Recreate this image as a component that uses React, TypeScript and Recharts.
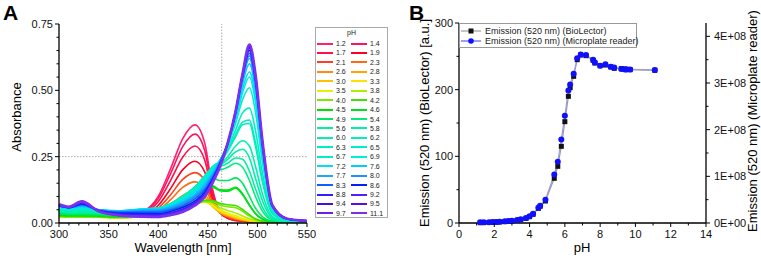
import React from 'react';
import { LineChart, Line, XAxis, YAxis, ReferenceLine, Legend } from 'recharts';

const FONT = '"Liberation Sans", Arial, sans-serif';

// pH of every spectrum in panel A, also the x values of panel B
const phValues = [
  1.2, 1.4, 1.7, 1.9, 2.1, 2.3, 2.6, 2.8, 3.0, 3.3, 3.5, 3.8, 4.0, 4.2, 4.5, 4.6, 4.9, 5.4, 5.6,
  5.8, 6.0, 6.2, 6.3, 6.5, 6.7, 6.9, 7.2, 7.6, 7.7, 8.0, 8.3, 8.6, 8.8, 9.2, 9.4, 9.5, 9.7, 11.1,
];

const phColors = [
  '#ff2070', '#ff1060', '#ff1048', '#ff0020', '#ff4020', '#ff6a10', '#ff8a10', '#ffa500', '#ffc000',
  '#ffe000', '#e8f000', '#b0ee00', '#80e800', '#40e000', '#00e000', '#00e020', '#00e860', '#00ee80',
  '#00f0a0', '#00f0a8', '#00f0b0', '#00f0b8', '#00eec0', '#00eec8', '#00eed0', '#00eedc', '#00e0f0',
  '#00ccff', '#20a8ff', '#2090ff', '#1060ff', '#0020ff', '#3020ff', '#5020ff', '#4010e0', '#5010f0',
  '#6a20e8', '#7a30f0',
];

const wavelengths = [300, 310, 323, 340, 360, 385, 400, 412, 425, 437, 447, 455, 462, 470, 478, 485, 492, 498, 505, 515, 530, 550];

// one row per pH, one value per wavelength
const absorbance: number[][] = [
  [0.040, 0.036, 0.035, 0.030, 0.026, 0.045, 0.100, 0.200, 0.320, 0.370, 0.300, 0.125, 0.045, 0.018, 0.010, 0.007, 0.006, 0.005, 0.005, 0.004, 0.004, 0.004],
  [0.038, 0.034, 0.033, 0.029, 0.025, 0.042, 0.092, 0.182, 0.290, 0.335, 0.272, 0.115, 0.043, 0.018, 0.010, 0.007, 0.006, 0.005, 0.005, 0.004, 0.004, 0.004],
  [0.036, 0.032, 0.031, 0.028, 0.024, 0.039, 0.080, 0.157, 0.250, 0.290, 0.236, 0.102, 0.042, 0.019, 0.011, 0.008, 0.006, 0.005, 0.005, 0.004, 0.004, 0.004],
  [0.034, 0.030, 0.030, 0.027, 0.023, 0.035, 0.066, 0.127, 0.202, 0.233, 0.192, 0.088, 0.040, 0.020, 0.012, 0.008, 0.006, 0.005, 0.005, 0.004, 0.004, 0.004],
  [0.032, 0.029, 0.029, 0.026, 0.022, 0.032, 0.056, 0.104, 0.165, 0.190, 0.160, 0.078, 0.040, 0.022, 0.013, 0.009, 0.007, 0.005, 0.005, 0.004, 0.004, 0.004],
  [0.031, 0.028, 0.028, 0.025, 0.022, 0.030, 0.048, 0.086, 0.135, 0.155, 0.133, 0.070, 0.040, 0.024, 0.015, 0.010, 0.007, 0.005, 0.005, 0.004, 0.004, 0.004],
  [0.029, 0.027, 0.027, 0.024, 0.021, 0.028, 0.040, 0.068, 0.105, 0.120, 0.108, 0.064, 0.040, 0.026, 0.017, 0.011, 0.008, 0.006, 0.005, 0.004, 0.004, 0.004],
  [0.028, 0.026, 0.026, 0.024, 0.021, 0.027, 0.036, 0.058, 0.088, 0.100, 0.094, 0.062, 0.041, 0.028, 0.019, 0.012, 0.008, 0.006, 0.005, 0.004, 0.004, 0.004],
  [0.026, 0.025, 0.025, 0.023, 0.020, 0.026, 0.034, 0.050, 0.074, 0.085, 0.084, 0.062, 0.043, 0.030, 0.021, 0.014, 0.009, 0.006, 0.005, 0.004, 0.004, 0.004],
  [0.025, 0.024, 0.024, 0.022, 0.020, 0.025, 0.032, 0.046, 0.066, 0.078, 0.080, 0.064, 0.046, 0.033, 0.023, 0.015, 0.010, 0.006, 0.005, 0.004, 0.004, 0.004],
  [0.024, 0.023, 0.023, 0.022, 0.020, 0.025, 0.031, 0.043, 0.061, 0.073, 0.078, 0.067, 0.050, 0.037, 0.027, 0.018, 0.011, 0.007, 0.005, 0.004, 0.004, 0.004],
  [0.024, 0.023, 0.023, 0.022, 0.020, 0.025, 0.031, 0.042, 0.058, 0.070, 0.079, 0.073, 0.058, 0.047, 0.038, 0.026, 0.015, 0.009, 0.005, 0.004, 0.004, 0.004],
  [0.025, 0.024, 0.024, 0.023, 0.021, 0.026, 0.032, 0.043, 0.059, 0.072, 0.082, 0.080, 0.068, 0.061, 0.058, 0.044, 0.026, 0.013, 0.006, 0.004, 0.004, 0.004],
  [0.027, 0.025, 0.025, 0.024, 0.022, 0.027, 0.033, 0.045, 0.061, 0.075, 0.086, 0.085, 0.074, 0.069, 0.066, 0.051, 0.031, 0.016, 0.007, 0.004, 0.004, 0.004],
  [0.030, 0.028, 0.028, 0.027, 0.025, 0.031, 0.038, 0.053, 0.076, 0.102, 0.130, 0.140, 0.125, 0.124, 0.135, 0.110, 0.068, 0.036, 0.015, 0.006, 0.004, 0.004],
  [0.030, 0.028, 0.028, 0.027, 0.025, 0.031, 0.038, 0.052, 0.074, 0.099, 0.126, 0.135, 0.122, 0.120, 0.131, 0.107, 0.066, 0.035, 0.015, 0.006, 0.004, 0.004],
  [0.035, 0.032, 0.032, 0.031, 0.029, 0.036, 0.044, 0.061, 0.088, 0.119, 0.152, 0.170, 0.160, 0.160, 0.170, 0.150, 0.100, 0.056, 0.024, 0.007, 0.004, 0.004],
  [0.040, 0.037, 0.037, 0.035, 0.033, 0.041, 0.049, 0.067, 0.096, 0.131, 0.170, 0.198, 0.200, 0.210, 0.225, 0.210, 0.160, 0.100, 0.045, 0.012, 0.005, 0.004],
  [0.042, 0.039, 0.040, 0.037, 0.035, 0.043, 0.051, 0.069, 0.099, 0.134, 0.175, 0.205, 0.212, 0.225, 0.245, 0.240, 0.195, 0.130, 0.060, 0.015, 0.005, 0.004],
  [0.045, 0.042, 0.043, 0.040, 0.038, 0.046, 0.053, 0.071, 0.101, 0.136, 0.178, 0.210, 0.218, 0.240, 0.268, 0.278, 0.245, 0.170, 0.085, 0.020, 0.006, 0.005],
  [0.048, 0.045, 0.046, 0.043, 0.040, 0.048, 0.055, 0.072, 0.101, 0.136, 0.178, 0.212, 0.223, 0.250, 0.290, 0.310, 0.290, 0.215, 0.110, 0.025, 0.007, 0.005],
  [0.050, 0.047, 0.049, 0.045, 0.042, 0.050, 0.056, 0.072, 0.100, 0.134, 0.176, 0.213, 0.230, 0.270, 0.325, 0.370, 0.375, 0.290, 0.155, 0.035, 0.009, 0.006],
  [0.051, 0.048, 0.050, 0.046, 0.043, 0.051, 0.056, 0.072, 0.099, 0.133, 0.175, 0.213, 0.232, 0.274, 0.333, 0.380, 0.388, 0.305, 0.165, 0.037, 0.009, 0.006],
  [0.053, 0.050, 0.052, 0.047, 0.044, 0.052, 0.056, 0.071, 0.097, 0.130, 0.172, 0.211, 0.233, 0.282, 0.350, 0.415, 0.433, 0.350, 0.190, 0.042, 0.010, 0.006],
  [0.056, 0.053, 0.056, 0.049, 0.045, 0.053, 0.056, 0.069, 0.093, 0.124, 0.165, 0.205, 0.235, 0.292, 0.375, 0.465, 0.510, 0.420, 0.230, 0.050, 0.012, 0.007],
  [0.058, 0.055, 0.058, 0.050, 0.046, 0.053, 0.055, 0.067, 0.090, 0.120, 0.160, 0.200, 0.235, 0.297, 0.388, 0.490, 0.550, 0.455, 0.250, 0.055, 0.013, 0.007],
  [0.060, 0.056, 0.060, 0.050, 0.046, 0.052, 0.054, 0.065, 0.087, 0.116, 0.155, 0.195, 0.234, 0.298, 0.395, 0.505, 0.570, 0.473, 0.260, 0.057, 0.014, 0.007],
  [0.062, 0.057, 0.063, 0.050, 0.045, 0.050, 0.051, 0.061, 0.081, 0.109, 0.146, 0.188, 0.232, 0.300, 0.405, 0.525, 0.600, 0.500, 0.275, 0.060, 0.015, 0.008],
  [0.063, 0.058, 0.065, 0.050, 0.044, 0.048, 0.049, 0.058, 0.077, 0.104, 0.140, 0.184, 0.230, 0.300, 0.410, 0.538, 0.620, 0.517, 0.285, 0.062, 0.015, 0.008],
  [0.064, 0.058, 0.067, 0.049, 0.042, 0.045, 0.046, 0.054, 0.072, 0.098, 0.133, 0.178, 0.227, 0.300, 0.413, 0.545, 0.630, 0.525, 0.290, 0.063, 0.015, 0.008],
  [0.065, 0.058, 0.070, 0.048, 0.040, 0.041, 0.041, 0.049, 0.066, 0.091, 0.125, 0.172, 0.224, 0.300, 0.416, 0.550, 0.640, 0.534, 0.295, 0.064, 0.016, 0.008],
  [0.066, 0.058, 0.072, 0.047, 0.037, 0.036, 0.035, 0.043, 0.059, 0.083, 0.117, 0.166, 0.221, 0.300, 0.418, 0.553, 0.650, 0.542, 0.300, 0.065, 0.016, 0.008],
  [0.067, 0.059, 0.075, 0.046, 0.034, 0.032, 0.031, 0.038, 0.053, 0.077, 0.110, 0.161, 0.218, 0.300, 0.419, 0.556, 0.658, 0.549, 0.303, 0.066, 0.016, 0.008],
  [0.068, 0.059, 0.077, 0.045, 0.032, 0.029, 0.028, 0.035, 0.049, 0.072, 0.105, 0.158, 0.216, 0.300, 0.420, 0.558, 0.662, 0.552, 0.305, 0.066, 0.016, 0.008],
  [0.068, 0.060, 0.078, 0.045, 0.031, 0.027, 0.026, 0.033, 0.046, 0.069, 0.102, 0.156, 0.214, 0.300, 0.420, 0.559, 0.665, 0.555, 0.307, 0.066, 0.016, 0.008],
  [0.069, 0.060, 0.079, 0.044, 0.030, 0.026, 0.025, 0.032, 0.045, 0.068, 0.101, 0.155, 0.213, 0.300, 0.420, 0.560, 0.667, 0.557, 0.308, 0.067, 0.016, 0.008],
  [0.069, 0.060, 0.080, 0.044, 0.030, 0.025, 0.024, 0.031, 0.044, 0.067, 0.100, 0.154, 0.212, 0.300, 0.420, 0.560, 0.670, 0.558, 0.309, 0.067, 0.016, 0.008],
  [0.070, 0.061, 0.081, 0.044, 0.029, 0.024, 0.023, 0.030, 0.043, 0.066, 0.100, 0.153, 0.210, 0.300, 0.420, 0.560, 0.672, 0.560, 0.310, 0.067, 0.016, 0.008],
];

// panel B, emission at 520 nm
const bioLector = [
  0.5, 0.6, 0.8, 1.0, 1.2, 1.5, 2.0, 2.4, 3.0, 4.0, 5.0, 7, 9.5, 13, 22, 25, 33, 67, 85,
  115, 152, 190, 203, 220, 245, 252, 251, 244, 240, 236, 237, 234, 232, 231.5, 231, 230.5, 230, 229,
];
const microplate = [
  1.4e6, 1.4e6, 1.7e6, 2.1e6, 2.4e6, 2.9e6, 3.6e6, 4.3e6, 5.0e6, 6.4e6, 7.9e6, 1.07e7, 1.43e7, 2.0e7, 3.29e7, 3.71e7, 5.0e7, 1.04e8, 1.31e8,
  1.79e8, 2.3e8, 2.84e8, 2.97e8, 3.2e8, 3.53e8, 3.61e8, 3.6e8, 3.5e8, 3.44e8, 3.37e8, 3.4e8, 3.35e8, 3.33e8, 3.3e8, 3.29e8, 3.29e8, 3.29e8, 3.28e8,
];

const wlTicks = [300, 310, 320, 330, 340, 350, 360, 370, 380, 390, 400, 410, 420, 430, 440, 450, 460, 470, 480, 490, 500, 510, 520, 530, 540, 550];
const wlMajor = [300, 350, 400, 450, 500, 550];
const absTicks = [0, 0.05, 0.1, 0.15, 0.2, 0.25, 0.3, 0.35, 0.4, 0.45, 0.5, 0.55, 0.6, 0.65, 0.7, 0.75];
const absMajor = [0, 0.25, 0.5, 0.75];
const phTicks = [0, 1, 2, 3, 4, 5, 6, 7, 8, 9, 10, 11, 12, 13, 14];
const phMajor = [0, 2, 4, 6, 8, 10, 12, 14];
const bioTicks = [0, 50, 100, 150, 200, 250, 300];
const bioMajor = [0, 100, 200, 300];
const plateTicks = [0, 5e7, 1e8, 1.5e8, 2e8, 2.5e8, 3e8, 3.5e8, 4e8];
const plateMajor = [0, 1e8, 2e8, 3e8, 4e8];

const spectraData = wavelengths.map((wl, i) => {
  const row: Record<string, number> = { wl };
  absorbance.forEach((s, j) => {
    row[`s${j}`] = s[i];
  });
  return row;
});

const emissionData = phValues.map((ph, i) => ({ ph, bio: bioLector[i], plate: microplate[i] }));

const isIn = (list: number[], v: number) => list.some((m) => Math.abs(m - v) <= 1e-6 * Math.max(1, Math.abs(m)));

const makeTick = (side: 'bottom' | 'left' | 'right', majors: number[], fmt: (v: number) => string) => (props: any) => {
  const { x, y, payload } = props;
  const v = payload.value;
  const major = isIn(majors, v);
  const len = major ? 4 : 2.5;
  const txt = { fontSize: 11, fontFamily: FONT, fill: '#111' };
  if (side === 'bottom') {
    return (
      <g>
        <line x1={x} y1={y} x2={x} y2={y + len} stroke="#000" strokeWidth={1} />
        {major && <text x={x} y={y + 15} textAnchor="middle" {...txt}>{fmt(v)}</text>}
      </g>
    );
  }
  if (side === 'left') {
    return (
      <g>
        <line x1={x - len} y1={y} x2={x} y2={y} stroke="#000" strokeWidth={1} />
        {major && <text x={x - 6} y={y + 4} textAnchor="end" {...txt}>{fmt(v)}</text>}
      </g>
    );
  }
  return (
    <g>
      <line x1={x} y1={y} x2={x + len} y2={y} stroke="#000" strokeWidth={1} />
      {major && <text x={x + 8} y={y + 4} textAnchor="start" {...txt}>{fmt(v)}</text>}
    </g>
  );
};

const axisLine = { stroke: '#000', strokeWidth: 1.3 };

const PhLegend = (props: any) => {
  const payload = props.payload || [];
  return (
    <div style={{ position: 'relative', width: 73, height: 191, border: '1px solid #aaa', boxSizing: 'border-box', background: '#fff', fontFamily: FONT, fontSize: 7, color: '#222' }}>
      <div style={{ position: 'absolute', left: 0, right: 0, top: 0, textAlign: 'center', lineHeight: '9px' }}>pH</div>
      {payload.map((entry: any, i: number) => {
        const row = Math.floor(i / 2);
        const col = i % 2;
        const top = 11 + row * 9.44;
        const left = col === 0 ? 1 : 35;
        return (
          <div key={i} style={{ position: 'absolute', top, left, height: 9, display: 'flex', alignItems: 'center' }}>
            <div style={{ width: 16, height: 2, background: entry.color }} />
            <span style={{ marginLeft: 3, lineHeight: '9px' }}>{entry.value}</span>
          </div>
        );
      })}
    </div>
  );
};

const EmissionLegend = (props: any) => {
  const payload = props.payload || [];
  return (
    <div style={{ position: 'relative', width: 178, height: 25, border: '1px solid #999', boxSizing: 'border-box', background: '#fff', fontFamily: FONT, fontSize: 9, color: '#222' }}>
      {payload.map((entry: any, i: number) => (
        <div key={i} style={{ position: 'absolute', top: 2 + i * 9.5, left: 1, height: 10, display: 'flex', alignItems: 'center' }}>
          <svg width={20} height={10}>
            <line x1={0} y1={5} x2={20} y2={5} stroke={i === 0 ? '#888' : '#3a3aff'} strokeWidth={1} />
            {i === 0 ? <rect x={7.5} y={2.5} width={5} height={5} fill="#111" /> : <circle cx={10} cy={5} r={2.8} fill="#1010ff" />}
          </svg>
          <span style={{ marginLeft: 4, lineHeight: '10px', whiteSpace: 'nowrap' }}>{entry.value}</span>
        </div>
      ))}
    </div>
  );
};

const plateFmt = (v: number) => (v === 0 ? '0E+00' : `${Math.round(v / 1e8)}E+08`);
const seriesOrder = (item: any) => Number(String(item.dataKey).slice(1));

export default function App() {
  return (
    <div style={{ position: 'absolute', left: 0, top: 0, width: 761, height: 261, background: '#fff', fontFamily: FONT }}>
      <div style={{ position: 'absolute', left: 0, top: 0 }}>
        <LineChart width={395} height={261} data={spectraData} margin={{ top: 24, right: 88, bottom: 8, left: 0 }}>
          <XAxis dataKey="wl" type="number" domain={[300, 550]} ticks={wlTicks} interval={0} height={30}
            tickSize={0} tickMargin={0} tickLine={false} axisLine={axisLine}
            tick={makeTick('bottom', wlMajor, (v) => String(v))} />
          <XAxis xAxisId="top" orientation="top" type="number" domain={[300, 550]} height={0} tick={false} tickLine={false} axisLine={axisLine} />
          <YAxis type="number" domain={[0, 0.75]} ticks={absTicks} interval={0} width={59}
            tickSize={0} tickMargin={0} tickLine={false} axisLine={axisLine}
            tick={makeTick('left', absMajor, (v) => v.toFixed(2))} />
          <YAxis yAxisId="r" orientation="right" type="number" domain={[0, 0.75]} width={0} tick={false} tickLine={false} axisLine={axisLine} />
          <ReferenceLine x={464} stroke="#999" strokeDasharray="1.5 1.5" strokeWidth={0.8} />
          <ReferenceLine y={0.25} stroke="#999" strokeDasharray="1.5 1.5" strokeWidth={0.8} />
          {phValues.map((ph, j) => (
            <Line key={j} dataKey={`s${j}`} name={ph.toFixed(1)} type="monotone" stroke={phColors[j]}
              strokeWidth={j === phValues.length - 1 ? 2.8 : 1.6} dot={false} activeDot={false} isAnimationActive={false} />
          ))}
          <Legend layout="vertical" align="center" verticalAlign="middle" content={<PhLegend />} itemSorter={seriesOrder}
            wrapperStyle={{ left: 315, top: 27, width: 73, height: 191 }} />
        </LineChart>
      </div>
      <div style={{ position: 'absolute', left: 380, top: 0 }}>
        <LineChart width={381} height={261} data={emissionData} margin={{ top: 23, right: 0, bottom: 8, left: 0 }}>
          <XAxis dataKey="ph" type="number" domain={[0, 14]} ticks={phTicks} interval={0} height={30}
            tickSize={0} tickMargin={0} tickLine={false} axisLine={axisLine}
            tick={makeTick('bottom', phMajor, (v) => String(v))} />
          <XAxis xAxisId="top" orientation="top" type="number" domain={[0, 14]} height={0} tick={false} tickLine={false} axisLine={axisLine} />
          <YAxis yAxisId="left" type="number" domain={[0, 300]} ticks={bioTicks} interval={0} width={79}
            tickSize={0} tickMargin={0} tickLine={false} axisLine={axisLine}
            tick={makeTick('left', bioMajor, (v) => String(v))} />
          <YAxis yAxisId="right" orientation="right" type="number" domain={[0, 3e8 / 0.7]} ticks={plateTicks} interval={0} width={55}
            tickSize={0} tickMargin={0} tickLine={false} axisLine={axisLine}
            tick={makeTick('right', plateMajor, plateFmt)} />
          <Line yAxisId="left" dataKey="bio" name="Emission (520 nm) (BioLector)" type="linear" stroke="#9a9aaa" strokeWidth={1.2}
            isAnimationActive={false} activeDot={false}
            dot={(p: any) => <rect key={`b${p.index}`} x={p.cx - 2.5} y={p.cy - 2.5} width={5} height={5} fill="#111" />} />
          <Line yAxisId="right" dataKey="plate" name="Emission (520 nm) (Microplate reader)" type="linear" stroke="#9c9cdc" strokeWidth={1.2}
            isAnimationActive={false} activeDot={false}
            dot={(p: any) => <circle key={`p${p.index}`} cx={p.cx} cy={p.cy} r={3} fill="#1010ff" />} />
          <Legend layout="vertical" align="center" verticalAlign="middle" content={<EmissionLegend />} itemSorter="dataKey"
            wrapperStyle={{ left: 79, top: 23, width: 178, height: 25 }} />
        </LineChart>
      </div>
      <svg width={761} height={261} style={{ position: 'absolute', left: 0, top: 0, pointerEvents: 'none' }} fontFamily={FONT}>
        <text x={3} y={20} fontSize={21} fontWeight="bold">A</text>
        <text x={409} y={20} fontSize={21} fontWeight="bold">B</text>
        <text transform="translate(21,117) rotate(-90)" textAnchor="middle" fontSize={13}>Absorbance</text>
        <text x={183} y={252} textAnchor="middle" fontSize={13}>Wavelength [nm]</text>
        <text transform="translate(429,123) rotate(-90)" textAnchor="middle" fontSize={13}>Emission (520 nm) (BioLector) [a.u.]</text>
        <text x={582} y={252} textAnchor="middle" fontSize={13}>pH</text>
        <text transform="translate(757,121) rotate(-90)" textAnchor="middle" fontSize={13}>Emission (520 nm) (Microplate reader)</text>
      </svg>
    </div>
  );
}
